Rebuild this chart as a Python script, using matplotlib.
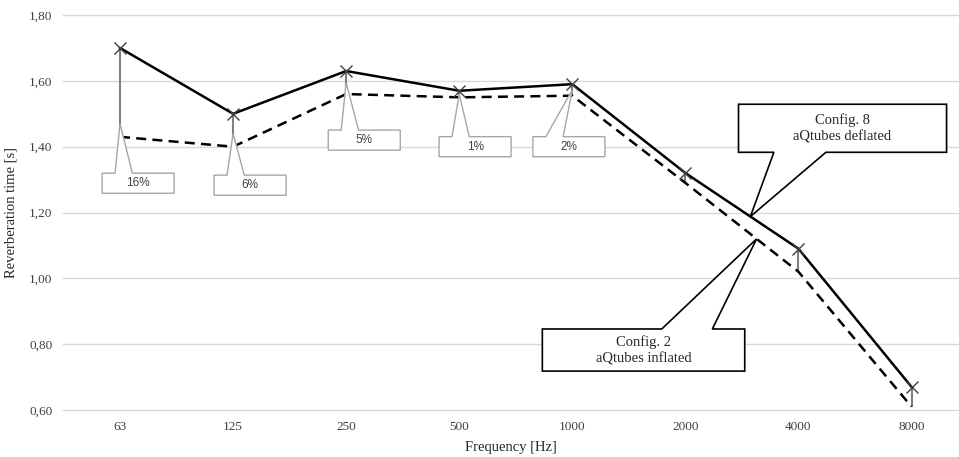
import matplotlib.pyplot as plt
import numpy as np
from matplotlib.patches import Polygon
from matplotlib.ticker import FuncFormatter

# temps de réverbération par bande d'octave
freqs = ['63', '125', '250', '500', '1000', '2000', '4000', '8000']
deflated = [1.70, 1.50, 1.63, 1.57, 1.59, 1.32, 1.09, 0.67]   # Config. 8
inflated = [1.43, 1.40, 1.56, 1.55, 1.555, 1.29, 1.02, 0.61]  # Config. 2
gap_labels = ['16%', '6%', '5%', '1%', '2%']

plt.rcParams['font.family'] = ['Liberation Serif', 'DejaVu Serif']

fig = plt.figure(figsize=(9.59, 4.57), dpi=100)
ax = fig.add_axes([0.0662, 0.103, 0.9338, 0.864])

x = np.arange(len(freqs))
ax.set_xlim(-0.5, 7.42)
ax.set_ylim(0.6, 1.8)
ax.set_yticks(np.arange(0.6, 1.81, 0.2))
ax.yaxis.set_major_formatter(FuncFormatter(lambda v, p: f'{v:.2f}'.replace('.', ',')))
ax.set_xticks(x)
ax.set_xticklabels(freqs)
ax.tick_params(length=0, labelsize=9.5, colors='#404040', pad=8)
for s in ax.spines.values():
    s.set_visible(False)
ax.grid(axis='y', color='#d9d9d9', lw=1)
for g in ax.yaxis.get_gridlines():
    g.set_clip_on(False)
ax.set_axisbelow(True)

# lignes haut-bas entre les deux configurations
ax.vlines(x, inflated, deflated, color='#7f7f7f', lw=1.5, zorder=2)
ax.plot(x, inflated, color='black', lw=1.8, ls=(0, (4, 2.5)), zorder=3)
ax.plot(x, deflated, color='black', lw=1.8, zorder=3)
ax.plot(x, deflated, ls='none', marker='x', ms=9, mew=1, color='#404040', zorder=4)

ax.set_ylabel('Reverberation time [s]', fontsize=10.5, color='#262626', labelpad=8)
ax.set_xlabel('Frequency [Hz]', fontsize=10.5, color='#262626', labelpad=6)


# callout : boîte avec une pointe qui part du bord haut (side='top') ou bas
def callout(tip, cx, cy, w, h, b0, b1, text, side, ec, lw, **kw):
    x0, x1 = cx - w / 2, cx + w / 2
    y0, y1 = cy - h / 2, cy + h / 2
    if side == 'top':
        pts = [(x0, y0), (x1, y0), (x1, y1), (x0 + b1 * w, y1), tip,
               (x0 + b0 * w, y1), (x0, y1)]
    else:
        pts = [(x0, y1), (x1, y1), (x1, y0), (x0 + b1 * w, y0), tip,
               (x0 + b0 * w, y0), (x0, y0)]
    ax.add_patch(Polygon(pts, closed=True, fc='white', ec=ec, lw=lw, zorder=5))
    ax.text(cx, cy, text, ha='center', va='center', zorder=6, **kw)


# écarts en pourcentage
box_pos = [(0.16, 1.289), (1.15, 1.283), (2.16, 1.42), (3.14, 1.40), (3.97, 1.40)]
for i, lab in enumerate(gap_labels):
    lo, hi = inflated[i], deflated[i]
    ty = min(lo + 0.04, (lo + hi) / 2)
    cx, cy = box_pos[i]
    callout((i, ty), cx, cy, 0.637, 0.061, 0.18, 0.42, lab, 'top',
            '#a6a6a6', 1.0, fontsize=8.5, color='#404040',
            family=['Liberation Sans', 'DejaVu Sans'])

# étiquettes des deux configurations
t8 = 5.575
callout((t8, np.interp(t8, x, deflated)), 6.39, 1.456, 1.84, 0.146, 0.17, 0.42,
        'Config. 8\naQtubes deflated', 'bottom', 'black', 1.2,
        fontsize=10.5, color='#262626', linespacing=1.3)
t2 = 5.63
callout((t2, np.interp(t2, x, inflated)), 4.63, 0.782, 1.79, 0.128, 0.59, 0.84,
        'Config. 2\naQtubes inflated', 'top', 'black', 1.2,
        fontsize=10.5, color='#262626', linespacing=1.3)

fig.savefig('out.png', dpi=100)
